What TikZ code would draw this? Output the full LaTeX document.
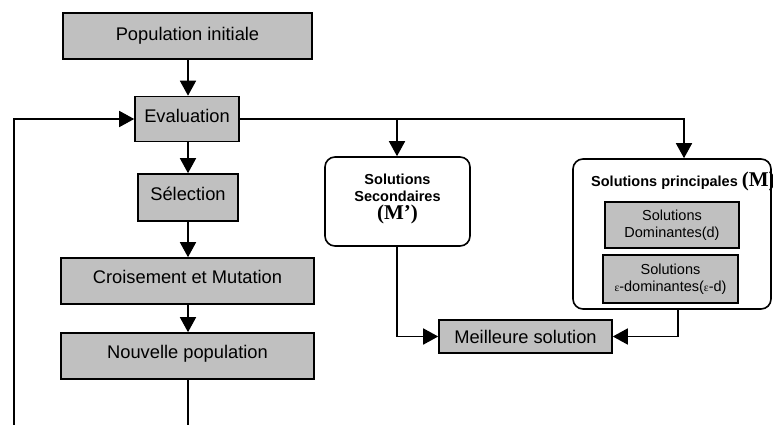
\documentclass[tikz,border=0pt]{standalone}
\usepackage{fontspec}
\setmainfont{Liberation Sans}
\newfontfamily\tms{Liberation Serif}
\usetikzlibrary{arrows.meta}
\definecolor{boxgray}{HTML}{C0C0C0}
\begin{document}
\begin{tikzpicture}[x=1pt,y=-1pt,
  gbox/.style={draw=black,line width=1.6pt,fill=boxgray,inner sep=0pt,
    font=\fontsize{18.3}{21}\selectfont},
  sbox/.style={draw=black,line width=1.6pt,fill=boxgray,inner sep=0pt,align=center,
    font=\fontsize{14.5}{17}\selectfont},
  rbox/.style={draw=black,line width=1.6pt,rounded corners=10pt,inner sep=0pt,fill=white},
  conn/.style={line width=1.6pt},
  arr/.style={line width=1.6pt,-{Triangle[length=15pt,width=16pt]}}
]
\useasboundingbox (0,0) rectangle (773,425);
% main column
\node[gbox,minimum width=249pt,minimum height=46pt] (pop) at (187.5,36) {\raisebox{4pt}{Population initiale}};
\node[gbox,minimum width=104pt,minimum height=45pt] (eval) at (187,119) {\raisebox{6pt}{Evaluation}};
\node[gbox,minimum width=100pt,minimum height=47pt] (sel) at (188,197.5) {\raisebox{8pt}{Sélection}};
\node[gbox,minimum width=253pt,minimum height=46pt] (crois) at (187.5,281) {\raisebox{8pt}{Croisement et Mutation}};
\node[gbox,minimum width=253pt,minimum height=46pt] (nouv) at (187.5,356) {\raisebox{8pt}{Nouvelle population}};
% secondary
\node[rbox,minimum width=145pt,minimum height=89pt] (sec) at (397.5,201.5) {};
\node[align=center,inner sep=0pt,font=\bfseries\fontsize{14.5}{17}\selectfont] (sectxt) at (397.5,199)
  {Solutions\\Secondaires\\[1pt]{\tms\bfseries\fontsize{21}{22}\selectfont (M’)}};
% principal
\node[rbox,minimum width=198pt,minimum height=150pt] (princ) at (672,234) {};
\node[anchor=base west,inner sep=0pt,font=\bfseries\fontsize{14.5}{17}\selectfont] (princtxt) at (591,186)
  {Solutions principales {\tms\bfseries\fontsize{21}{22}\selectfont (M)}};
\node[sbox,minimum width=134pt,minimum height=46pt] (dom) at (672,225) {Solutions\\Dominantes(d)};
\node[sbox,minimum width=135pt,minimum height=48pt] (eps) at (670.5,279)
  {Solutions\\{\tms\fontsize{11.5}{12}\selectfont ε}-dominantes({\tms\fontsize{11.5}{12}\selectfont ε}-d)};
% best
\node[gbox,minimum width=173pt,minimum height=33pt] (best) at (525.5,336.5) {Meilleure solution};
% coordinates
\coordinate (loopB) at (14,425);
\coordinate (nouvB) at (188,425);
\coordinate (split) at (397,119);
\coordinate (pin) at (684,119);
\coordinate (pout) at (678,309);
% connectors
\draw[arr] (pop.south -| 188,0) -- (eval.north -| 188,0);
\draw[arr] (loopB) |- (eval.west);
\draw[arr] (eval.east) -- (pin) -- (princ.north -| pin);
\draw[arr] (split) -- (sec.north -| split);
\draw[arr] (eval.south -| 188,0) -- (sel.north -| 188,0);
\draw[arr] (sel.south -| 188,0) -- (crois.north -| 188,0);
\draw[arr] (crois.south -| 188,0) -- (nouv.north -| 188,0);
\draw[conn] (nouv.south -| nouvB) -- (nouvB);
\draw[arr] (sec.south -| split) |- (best.west);
\draw[arr] (pout) |- (best.east);
\end{tikzpicture}
\end{document}
